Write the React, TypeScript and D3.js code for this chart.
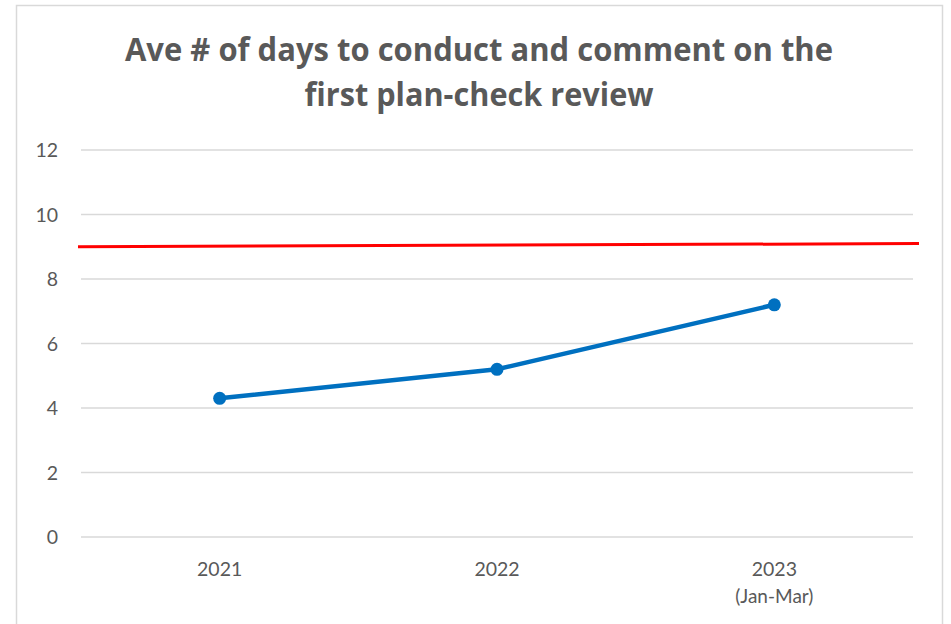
import React from 'react'
import * as d3 from 'd3'

const titleLines = ['Ave # of days to conduct and comment on the', 'first plan-check review']
const years = ['2021', '2022', '2023']
const yearNotes = ['', '', '(Jan-Mar)']
const avgDays = [4.3, 5.2, 7.2]
const targetDays = [9.0, 9.1]
const yTicks = [0, 2, 4, 6, 8, 10, 12]

const W = 951
const H = 624
const plot = { left: 81, right: 913, top: 150, bottom: 537 }
const font = 'Lato, "Open Sans", sans-serif'
const titleFont = '"Open Sans", Lato, sans-serif'
const grey = '#595959'

function App() {
  const x = d3.scaleBand<string>().domain(years).range([plot.left, plot.right])
  const y = d3.scaleLinear().domain([0, 12]).range([plot.bottom, plot.top])
  // target line runs a touch past the plot area, like the original
  const xT = d3.scaleLinear().domain([0, targetDays.length - 1]).range([78, 919])

  const line = d3
    .line<number>()
    .x((d, i) => (x(years[i]) as number) + x.bandwidth() / 2)
    .y((d) => y(d))

  const targetLine = d3
    .line<number>()
    .x((d, i) => xT(i))
    .y((d) => y(d))

  return (
    <svg width={W} height={H} style={{ position: 'absolute', left: 0, top: 0, background: '#fff' }}>
      <rect x={16.5} y={5.5} width={926} height={700} fill="#fff" stroke="#d9d9d9" strokeWidth={1.5} />

      <text x={479} y={61} textAnchor="middle" fontFamily={titleFont} fontWeight="bold" fontSize={32} fill={grey}
        textLength={708} lengthAdjust="spacingAndGlyphs">
        {titleLines[0]}
      </text>
      <text x={479} y={106} textAnchor="middle" fontFamily={titleFont} fontWeight="bold" fontSize={32} fill={grey}
        textLength={349} lengthAdjust="spacingAndGlyphs">
        {titleLines[1]}
      </text>

      {yTicks.map((t) => (
        <g key={t}>
          <line x1={plot.left} x2={plot.right} y1={y(t)} y2={y(t)} stroke="#d9d9d9" strokeWidth={1.3} />
          <text x={58} y={y(t) + 7} textAnchor="end" fontFamily={font} fontSize={19.5} fill={grey}>
            {t}
          </text>
        </g>
      ))}

      {years.map((yr, i) => {
        const cx = (x(yr) as number) + x.bandwidth() / 2
        return (
          <g key={yr}>
            <text x={cx} y={576} textAnchor="middle" fontFamily={font} fontSize={19.5} fill={grey}>
              {yr}
            </text>
            {yearNotes[i] && (
              <text x={cx} y={603} textAnchor="middle" fontFamily={font} fontSize={19} fill={grey}>
                {yearNotes[i]}
              </text>
            )}
          </g>
        )
      })}

      <path d={targetLine(targetDays) || ''} fill="none" stroke="#ff0000" strokeWidth={3} />

      <path d={line(avgDays) || ''} fill="none" stroke="#0070c0" strokeWidth={4.5} strokeLinejoin="round" />
      {avgDays.map((v, i) => (
        <circle key={i} cx={(x(years[i]) as number) + x.bandwidth() / 2} cy={y(v)} r={6.5} fill="#0070c0" />
      ))}
    </svg>
  )
}

export default App
